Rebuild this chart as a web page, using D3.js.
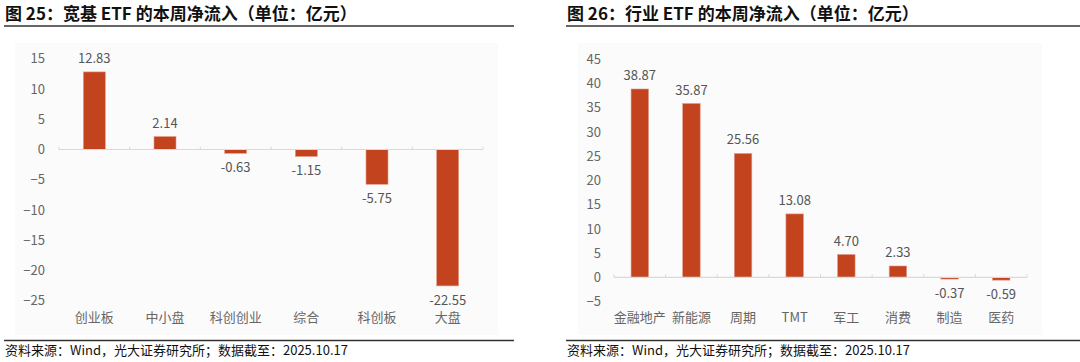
<!DOCTYPE html>
<html>
<head>
<meta charset="utf-8">
<script src="https://cdn.jsdelivr.net/npm/d3@7"></script>
<style>
  body { margin: 0; background: #fff; }
  svg { display: block; font-family: "Noto Sans CJK SC", "Noto Sans", sans-serif; }
</style>
</head>
<body>
<svg id="chart" width="1080" height="362"></svg>
<script>
// 图 25 宽基 ETF
var broadCats = ["创业板", "中小盘", "科创创业", "综合", "科创板", "大盘"];
var broadVals = [12.83, 2.14, -0.63, -1.15, -5.75, -22.55];
var broadTicks = [15, 10, 5, 0, -5, -10, -15, -20, -25];

// 图 26 行业 ETF
var industryCats = ["金融地产", "新能源", "周期", "TMT", "军工", "消费", "制造", "医药"];
var industryVals = [38.87, 35.87, 25.56, 13.08, 4.70, 2.33, -0.37, -0.59];
var industryTicks = [45, 40, 35, 30, 25, 20, 15, 10, 5, 0, -5];

var titles = ["图 25：宽基 ETF 的本周净流入（单位：亿元）", "图 26：行业 ETF 的本周净流入（单位：亿元）"];
var source = "资料来源：Wind，光大证券研究所；数据截至：2025.10.17";

var barColor = "#c4431f";
var svg = d3.select("#chart");

function panel(opt) {
  var g = svg.append("g");

  // title and rules
  g.append("text")
    .attr("x", opt.left).attr("y", 19.5)
    .attr("font-size", 17).attr("font-weight", "bold").attr("fill", "#111")
    .text(opt.title);
  g.append("line")
    .attr("x1", opt.left - 1).attr("x2", opt.ruleEnd)
    .attr("y1", 26).attr("y2", 26)
    .attr("stroke", "#333").attr("stroke-width", 1.5);
  g.append("line")
    .attr("x1", opt.left - 1).attr("x2", opt.ruleEnd)
    .attr("y1", 340.5).attr("y2", 340.5)
    .attr("stroke", "#333").attr("stroke-width", 1.5);
  g.append("text")
    .attr("x", opt.left).attr("y", 355)
    .attr("font-size", 13).attr("fill", "#111")
    .text(source);

  // faint plot background
  g.append("rect")
    .attr("x", opt.bg[0]).attr("y", 43)
    .attr("width", opt.bg[1] - opt.bg[0]).attr("height", 292)
    .attr("fill", "#fbfbfb");

  var x = d3.scaleBand().domain(opt.cats).range([opt.x0, opt.x1]).paddingInner(0);
  var y = d3.scaleLinear().domain(opt.domain).range(opt.yRange);

  // y axis labels only
  var yAxis = d3.axisLeft(y).tickValues(opt.ticks).tickSize(0).tickPadding(0);
  var ya = g.append("g").attr("transform", "translate(" + opt.yLabelX + ",0)").call(yAxis);
  ya.select(".domain").remove();
  ya.selectAll("text").attr("font-size", 13).attr("fill", "#666")
    .attr("font-family", "'Noto Sans CJK SC', 'Noto Sans', sans-serif");

  // bars
  var bw = opt.barW;
  g.selectAll("rect.bar").data(opt.vals).enter().append("rect")
    .attr("class", "bar")
    .attr("x", function (d, i) { return x(opt.cats[i]) + (x.bandwidth() - bw) / 2; })
    .attr("y", function (d) { return y(Math.max(0, d)); })
    .attr("width", bw)
    .attr("height", function (d) { return Math.abs(y(d) - y(0)); })
    .attr("fill", barColor)
    .attr("stroke", "#e29a86").attr("stroke-width", 0.6);

  // zero line with band ticks
  var xa = g.append("g").attr("transform", "translate(0," + y(0) + ")");
  xa.append("line").attr("x1", opt.x0).attr("x2", opt.x1)
    .attr("stroke", "#d9d9d9").attr("stroke-width", 1.2);
  var edges = opt.cats.map(function (c) { return x(c); }).concat([opt.x1]);
  xa.selectAll("line.tk").data(edges).enter().append("line")
    .attr("class", "tk")
    .attr("x1", function (d) { return d; }).attr("x2", function (d) { return d; })
    .attr("y1", -3).attr("y2", 0)
    .attr("stroke", "#d9d9d9");

  // value labels
  g.selectAll("text.val").data(opt.vals).enter().append("text")
    .attr("class", "val")
    .attr("x", function (d, i) { return x(opt.cats[i]) + x.bandwidth() / 2; })
    .attr("y", function (d) { return d >= 0 ? y(d) - 9 : y(d) + 19; })
    .attr("text-anchor", "middle")
    .attr("font-size", 13).attr("fill", "#555")
    .text(function (d) { return d.toFixed(2); });

  // category labels
  g.selectAll("text.cat").data(opt.cats).enter().append("text")
    .attr("class", "cat")
    .attr("x", function (d) { return x(d) + x.bandwidth() / 2; })
    .attr("y", 322)
    .attr("text-anchor", "middle")
    .attr("font-size", 13).attr("fill", "#666")
    .text(function (d) { return d; });
}

panel({
  title: titles[0], left: 5, ruleEnd: 514, bg: [15, 498],
  cats: broadCats, vals: broadVals, ticks: broadTicks,
  domain: [-25, 15], yRange: [300.7, 58.8],
  x0: 59, x1: 483, barW: 22, yLabelX: 45
});

panel({
  title: titles[1], left: 567, ruleEnd: 1080, bg: [578, 1042],
  cats: industryCats, vals: industryVals, ticks: industryTicks,
  domain: [-5, 45], yRange: [301.5, 59.3],
  x0: 614, x1: 1027, barW: 17.5, yLabelX: 601
});
</script>
</body>
</html>
